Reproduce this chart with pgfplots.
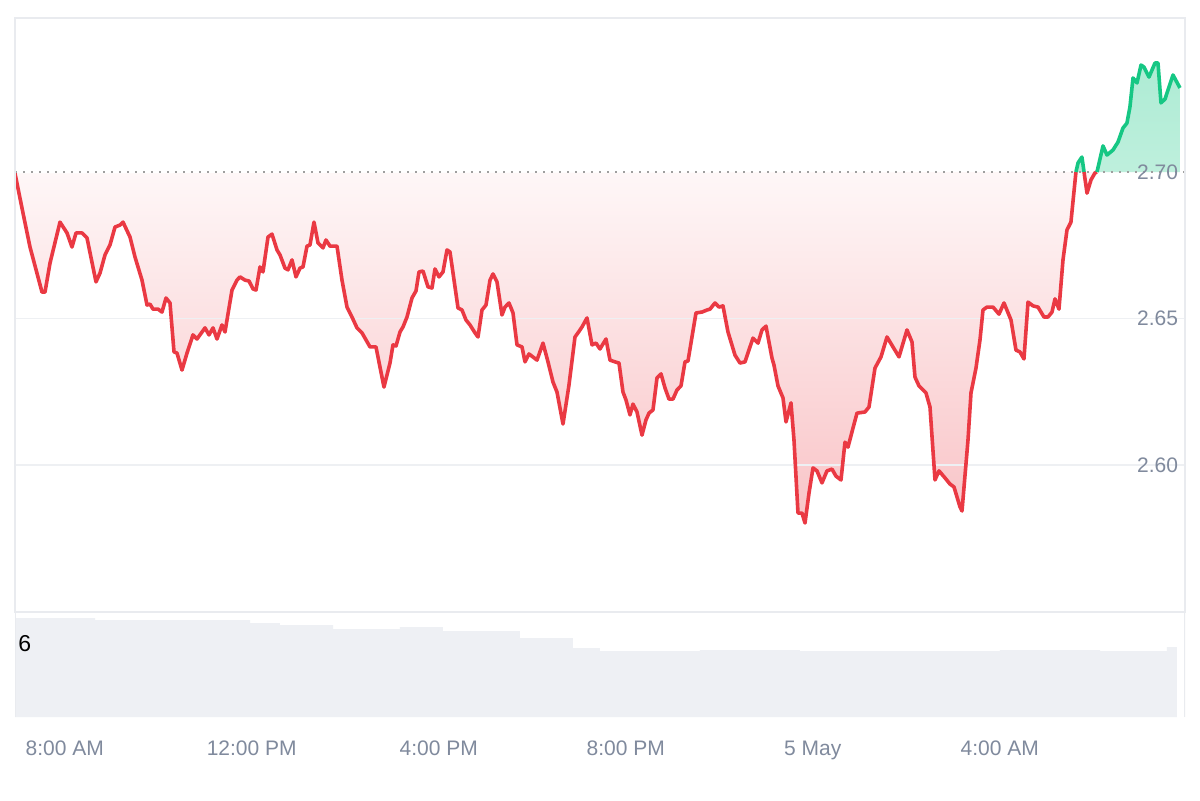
\documentclass[border=0pt]{standalone}
\usepackage{pgfplots}
\pgfplotsset{compat=1.18}
\usepackage{pgfplotstable}
\usepackage{fontspec}
\setmainfont{Liberation Sans}
\definecolor{cmcred}{HTML}{EA3943}
\definecolor{cmcgreen}{HTML}{16C784}
\definecolor{labelgray}{HTML}{808A9D}
\definecolor{framec}{HTML}{E9EBEF}
\definecolor{gridc}{HTML}{EEF0F3}
\definecolor{volc}{HTML}{EEF0F4}

% price readings: px = horizontal position (18 px = 7:00, 46.75 px per hour)
\pgfplotstableread{
px p
15 2.6995
23 2.6860
30 2.6744
42 2.6590
45 2.6590
50 2.6689
60 2.6829
67 2.6792
72 2.6744
76 2.6792
82 2.6792
87 2.6775
96 2.6625
100 2.6655
105 2.6717
110 2.6751
115 2.6812
120 2.6819
123 2.6829
130 2.6778
135 2.6710
142 2.6631
147 2.6546
150 2.6549
153 2.6532
158 2.6532
162 2.6522
166 2.6570
170 2.6553
174 2.6386
177 2.6382
182 2.6324
187 2.6382
193 2.6444
197 2.6430
205 2.6468
209 2.6444
213 2.6468
217 2.6430
222 2.6478
225 2.6454
232 2.6597
237 2.6631
240 2.6642
245 2.6631
249 2.6628
253 2.6601
256 2.6597
260 2.6676
263 2.6659
268 2.6778
272 2.6788
277 2.6734
280 2.6717
285 2.6672
288 2.6666
292 2.6700
296 2.6642
300 2.6672
303 2.6676
307 2.6747
310 2.6751
314 2.6829
318 2.6758
323 2.6741
326 2.6768
330 2.6747
337 2.6747
342 2.6631
347 2.6539
352 2.6505
357 2.6468
362 2.6451
370 2.6403
376 2.6403
380 2.6334
384 2.6266
390 2.6348
393 2.6410
396 2.6406
400 2.6454
403 2.6471
407 2.6505
412 2.6570
416 2.6594
419 2.6659
423 2.6662
428 2.6608
432 2.6604
435 2.6669
439 2.6642
443 2.6659
447 2.6734
450 2.6727
455 2.6608
458 2.6536
462 2.6529
466 2.6495
470 2.6478
475 2.6451
478 2.6437
482 2.6529
486 2.6546
490 2.6631
493 2.6652
497 2.6625
502 2.6512
505 2.6539
509 2.6553
513 2.6519
517 2.6410
522 2.6403
525 2.6352
529 2.6379
537 2.6358
543 2.6416
548 2.6352
553 2.6283
557 2.6249
563 2.6140
569 2.6273
575 2.6437
578 2.6451
582 2.6471
587 2.6502
592 2.6410
596 2.6416
600 2.6396
606 2.6430
610 2.6358
615 2.6352
619 2.6348
623 2.6249
626 2.6222
630 2.6171
633 2.6208
637 2.6181
642 2.6102
646 2.6154
649 2.6177
653 2.6188
657 2.6297
661 2.6311
665 2.6263
669 2.6225
673 2.6225
677 2.6256
681 2.6270
685 2.6352
688 2.6355
696 2.6519
702 2.6522
707 2.6529
710 2.6532
715 2.6553
719 2.6539
723 2.6543
728 2.6454
735 2.6375
740 2.6348
745 2.6352
750 2.6403
753 2.6433
758 2.6416
762 2.6461
766 2.6474
772 2.6365
774 2.6341
778 2.6270
783 2.6229
786 2.6147
791 2.6212
794 2.6085
798 2.5836
802 2.5836
805 2.5802
809 2.5904
813 2.5990
817 2.5980
822 2.5939
827 2.5980
832 2.5986
836 2.5962
841 2.5949
845 2.6078
848 2.6061
853 2.6126
857 2.6177
865 2.6181
869 2.6198
875 2.6331
881 2.6369
887 2.6437
893 2.6403
899 2.6369
907 2.6461
912 2.6420
915 2.6300
919 2.6270
926 2.6246
930 2.6198
935 2.5949
939 2.5980
945 2.5956
950 2.5935
954 2.5925
960 2.5857
962 2.5843
968 2.6085
971 2.6246
976 2.6331
980 2.6427
983 2.6529
987 2.6539
993 2.6539
999 2.6515
1004 2.6553
1011 2.6495
1016 2.6392
1020 2.6386
1024 2.6362
1028 2.6556
1033 2.6543
1038 2.6539
1044 2.6505
1048 2.6505
1052 2.6522
1055 2.6567
1059 2.6532
1063 2.6700
1067 2.6802
1071 2.6829
1076 2.7000
}\redA
\pgfplotstableread{
px p
1076 2.7000
1078 2.7031
1082 2.7051
1084 2.7000
}\greenA
\pgfplotstableread{
px p
1084 2.7000
1087 2.6928
1091 2.6973
1095 2.6997
1097 2.7000
}\redB
\pgfplotstableread{
px p
1097 2.7000
1103 2.7089
1107 2.7058
1113 2.7075
1118 2.7102
1123 2.7150
1127 2.7167
1130 2.7222
1133 2.7321
1137 2.7304
1141 2.7365
1144 2.7358
1149 2.7324
1155 2.7372
1158 2.7372
1161 2.7236
1165 2.7249
1173 2.7331
1180 2.7287
1180 2.7000
}\greenB
% volume (relative height units)
\pgfplotstableread{
px v
15 99
95 97
250 94
280 92
333 88
400 90
443 86
520 79
573 69
600 66
700 67
800 66
900 66
1000 67
1100 66
1167 70
1177 70
}\vol

\pgfplotsset{
  table/tx/.style={x expr=(\thisrow{px}-18)/46.75, y=p},
}

\begin{document}
\begin{tikzpicture}[x=1pt,y=1pt]
\path[use as bounding box, fill=white] (0,0) rectangle (600,400);
% ---------- price panel ----------
\begin{axis}[
  at={(7.5pt,94pt)}, anchor=south west, scale only axis,
  width=585pt, height=297pt,
  xmin=-0.0642, xmax=24.963, ymin=2.54983, ymax=2.75256,
  xtick=\empty,
  ytick={2.60,2.65,2.70},
  yticklabel pos=right,
  major tick length=0pt,
  axis on top,
  yticklabel style={anchor=east, font=\fontsize{10.5}{12}\selectfont, text=labelgray},
  /pgf/number format/fixed,
  /pgf/number format/fixed zerofill,
  /pgf/number format/precision=2,
  /pgf/number format/assume math mode=true,
  axis line style={draw=framec, line width=0.75pt},
]
% area fills between the price line and the 2.70 reference level
\addplot[draw=none, top color=cmcred!4!white, bottom color=cmcred!30!white, forget plot] table[tx] {\redA} -- cycle;
\addplot[draw=none, fill=cmcred!6!white, forget plot] table[tx] {\redB} -- cycle;
\addplot[draw=none, fill=cmcgreen!32!white, forget plot] table[tx] {\greenA} -- cycle;
\addplot[draw=none, top color=cmcgreen!35!white, bottom color=cmcgreen!28!white, forget plot] table[tx] {\greenB} -- cycle;

\draw[gridc, line width=0.75pt] (axis cs:-0.0642,2.65) -- (axis cs:24.963,2.65);
\draw[gridc, line width=0.75pt] (axis cs:-0.0642,2.60) -- (axis cs:24.963,2.60);
\draw[gray!75, line width=0.8pt, dash pattern=on 0.8pt off 3.2pt] (axis cs:-0.0642,2.70) -- (axis cs:24.963,2.70);

\addplot[cmcred, line width=1.8pt, line join=round] table[tx] {\redA};
\addplot[cmcgreen, line width=1.8pt, line join=round] table[tx] {\greenA};
\addplot[cmcred, line width=1.8pt, line join=round] table[tx] {\redB};
\addplot[cmcgreen, line width=1.8pt, line join=round] table[tx, skip coords between index={19}{20}] {\greenB};
\end{axis}

% ---------- volume panel ----------
\begin{axis}[
  at={(7.5pt,41.5pt)}, anchor=south west, scale only axis,
  width=585pt, height=52.5pt,
  xmin=-0.0642, xmax=24.963, ymin=0, ymax=105,
  axis line style={draw=none},
  ytick=\empty,
  xtick={1,5,9,13,17,21},
  xticklabels={8:00 AM,12:00 PM,4:00 PM,8:00 PM,5 May,4:00 AM},
  major tick length=0pt,
  xticklabel style={anchor=base, yshift=-19pt, font=\fontsize{10.5}{12}\selectfont, text=labelgray},
]
\addplot[const plot, fill=volc, draw=none] table[x expr=(\thisrow{px}-18)/46.75, y=v] {\vol} \closedcycle;
\draw[framec, line width=0.75pt] (rel axis cs:0,0) -- (rel axis cs:0,1);
\draw[framec, line width=0.75pt] (rel axis cs:1,0) -- (rel axis cs:1,1);
\end{axis}
\node[anchor=base west, inner sep=0pt, font=\fontsize{11.5}{13}\selectfont] at (9pt,74.5pt) {6};
\end{tikzpicture}
\end{document}
